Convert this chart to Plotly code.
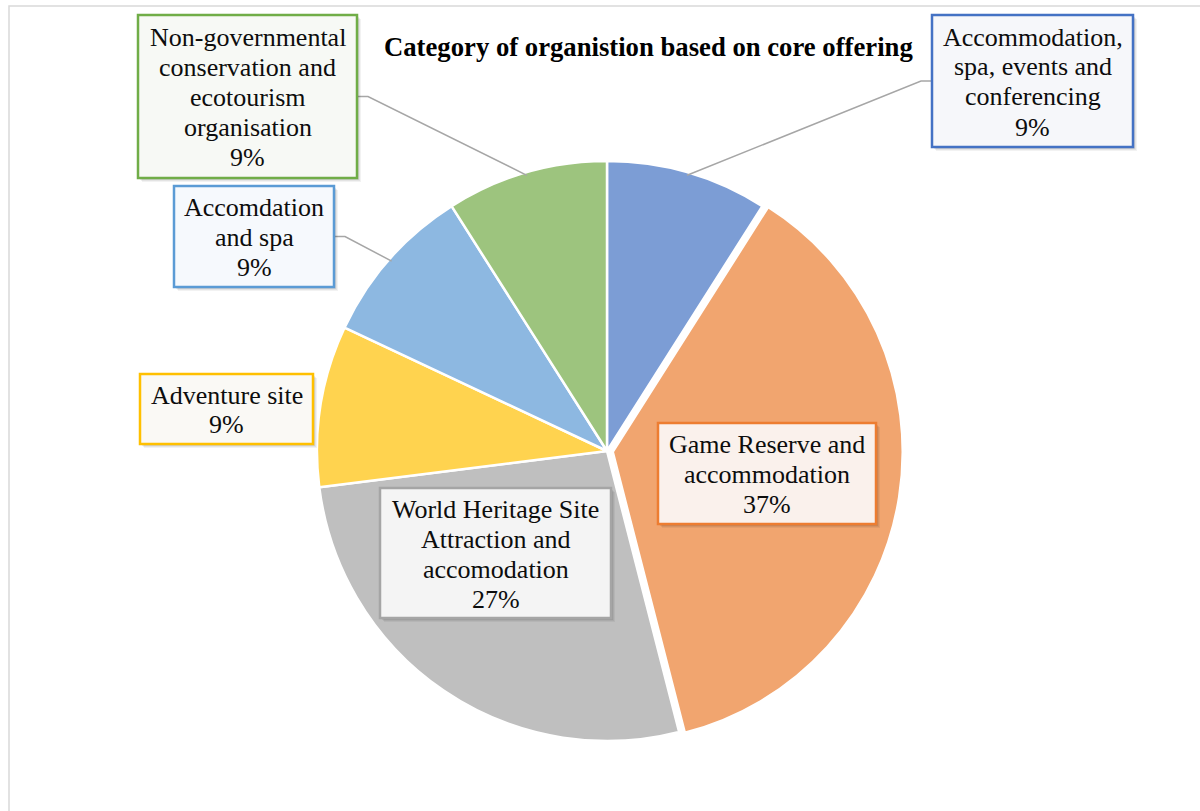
import math
import plotly.graph_objects as go

W, H = 1200, 811

# Core-offering categories, clockwise from 12 o'clock
categories = [
    "Accommodation, spa, events and conferencing",
    "Game Reserve and accommodation",
    "World Heritage Site Attraction and accomodation",
    "Adventure site",
    "Accomdation and spa",
    "Non-governmental conservation and ecotourism organisation",
]
shares = [9, 37, 27, 9, 9, 9]
label_lines = [
    ["Accommodation,", "spa, events and", "conferencing"],
    ["Game Reserve and", "accommodation"],
    ["World Heritage Site", "Attraction and", "accomodation"],
    ["Adventure site"],
    ["Accomdation", "and spa"],
    ["Non-governmental", "conservation and", "ecotourism", "organisation"],
]
slice_colors = ["#7C9DD5", "#F1A56F", "#BFBFBF", "#FFD34F", "#8DB8E1", "#9DC47E"]
box_borders = ["#4472C4", "#ED7D31", "#A5A5A5", "#FFC000", "#5B9BD5", "#70AD47"]
box_fills = ["#F6F7FA", "#FAF1EC", "#F4F4F4", "#FAF9F5", "#F6F9FD", "#F7F9F5"]
pulls = [0, 0.02, 0, 0, 0, 0]

title_text = "Category of organistion based on core offering"

# pie placement in pixels
cx, cy, radius = 607, 451, 290
half = radius * (1 + max(pulls))

# label boxes in pixels: (x0, y0, x1, y1)
boxes = [
    (932, 15, 1133, 147),
    (658, 423, 876, 524),
    (380, 488, 611, 618),
    (140, 374, 313, 444),
    (174, 186, 334, 287),
    (138, 15, 357, 178),
]
# slices with leader lines: index -> side of box the line leaves from
leaders = {0: "left", 4: "right", 5: "right"}

LINE_H = 30
FONT = "Liberation Serif"


def px(x):
    return x / W


def py(y):
    return 1 - y / H


fig = go.Figure(
    go.Pie(
        labels=categories,
        values=shares,
        sort=False,
        direction="clockwise",
        rotation=0,
        pull=pulls,
        marker=dict(colors=slice_colors, line=dict(color="white", width=2.5)),
        textinfo="none",
        hoverinfo="label+percent",
        showlegend=False,
        domain=dict(x=[px(cx - half), px(cx + half)],
                    y=[py(cy + half), py(cy - half)]),
    )
)

shapes = []
annotations = []

# outer chart frame
shapes.append(dict(type="rect", xref="paper", yref="paper",
                   x0=px(9), x1=px(1215), y0=py(6), y1=py(830),
                   line=dict(color="#D9D9D9", width=1.5), fillcolor="rgba(0,0,0,0)",
                   layer="below"))

total = sum(shares)
cum = 0
for i, v in enumerate(shares):
    mid = (cum + v / 2) / total * 2 * math.pi
    cum += v
    x0, y0, x1, y1 = boxes[i]
    if i in leaders:
        ex = cx + radius * 0.99 * math.sin(mid)
        ey = cy - radius * 0.99 * math.cos(mid)
        ymid = (y0 + y1) / 2
        if leaders[i] == "left":
            sx, kx = x0, x0 - 11
        else:
            sx, kx = x1, x1 + 11
        path = "M {} {} L {} {} L {} {}".format(
            px(sx), py(ymid), px(kx), py(ymid), px(ex), py(ey))
        shapes.append(dict(type="path", xref="paper", yref="paper", path=path,
                           line=dict(color="#A6A6A6", width=1.5)))
    # soft drop shadow, then the box itself
    for off, alpha in ((4, 0.05), (3, 0.06), (2, 0.08)):
        shapes.append(dict(type="rect", xref="paper", yref="paper",
                           x0=px(x0 + off), x1=px(x1 + off),
                           y0=py(y0 + off), y1=py(y1 + off),
                           line=dict(width=0), fillcolor=f"rgba(0,0,0,{alpha})"))
    shapes.append(dict(type="rect", xref="paper", yref="paper",
                       x0=px(x0), x1=px(x1), y0=py(y0), y1=py(y1),
                       line=dict(color=box_borders[i], width=2.5),
                       fillcolor=box_fills[i]))
    lines = label_lines[i] + [f"{v}%"]
    bcx, bcy = (x0 + x1) / 2, (y0 + y1) / 2
    n = len(lines)
    for k, t in enumerate(lines):
        ly = bcy + (k - (n - 1) / 2) * LINE_H
        annotations.append(dict(text=t, xref="paper", yref="paper",
                                x=px(bcx), y=py(ly + 1), xanchor="center",
                                yanchor="middle", showarrow=False,
                                font=dict(family=FONT, size=26, color="#0D0D0D")))

annotations.append(dict(text=f"<b>{title_text}</b>", xref="paper", yref="paper",
                        x=px(648), y=py(47), xanchor="center", yanchor="middle",
                        showarrow=False,
                        font=dict(family=FONT, size=26.7, color="#000000")))

fig.update_layout(
    width=W, height=H,
    margin=dict(l=0, r=0, t=0, b=0),
    paper_bgcolor="white",
    plot_bgcolor="white",
    shapes=shapes,
    annotations=annotations,
)

fig.write_html("out.html")
